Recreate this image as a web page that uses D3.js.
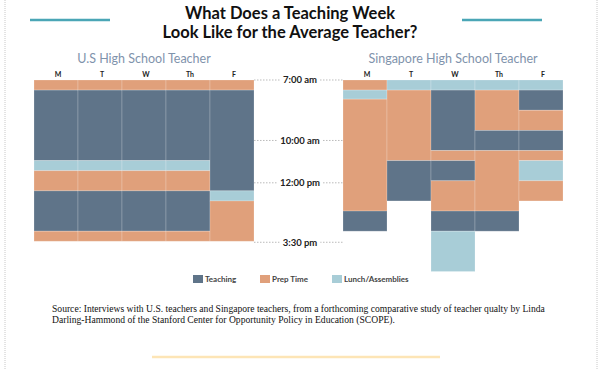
<!DOCTYPE html>
<html>
  <head>
    <meta charset="utf-8">
    <title>Teaching Week</title>
    <style>
      body { margin: 0; background: #fff; }
      svg text { font-family: Lato, "Open Sans", sans-serif; }
      .source { font-family: "Liberation Serif", serif; }
    </style>
  </head>
  <body>
    <div id="chart"></div>
    <script src="https://d3js.org/d3.v7.min.js"></script>
    <script>
      const days = ['M', 'T', 'W', 'Th', 'F'];
      const categories = ['Teaching', 'Prep Time', 'Lunch/Assemblies'];

      // blocks in class periods from 7:00 am: [day, start, end, category]
      const usBlocks = [
        ['M', 0, 1, 'Prep Time'], ['M', 1, 8, 'Teaching'], ['M', 8, 9, 'Lunch/Assemblies'],
        ['M', 9, 11, 'Prep Time'], ['M', 11, 15, 'Teaching'], ['M', 15, 16, 'Prep Time'],
        ['T', 0, 1, 'Prep Time'], ['T', 1, 8, 'Teaching'], ['T', 8, 9, 'Lunch/Assemblies'],
        ['T', 9, 11, 'Prep Time'], ['T', 11, 15, 'Teaching'], ['T', 15, 16, 'Prep Time'],
        ['W', 0, 1, 'Prep Time'], ['W', 1, 8, 'Teaching'], ['W', 8, 9, 'Lunch/Assemblies'],
        ['W', 9, 11, 'Prep Time'], ['W', 11, 15, 'Teaching'], ['W', 15, 16, 'Prep Time'],
        ['Th', 0, 1, 'Prep Time'], ['Th', 1, 8, 'Teaching'], ['Th', 8, 9, 'Lunch/Assemblies'],
        ['Th', 9, 11, 'Prep Time'], ['Th', 11, 15, 'Teaching'], ['Th', 15, 16, 'Prep Time'],
        ['F', 0, 1, 'Prep Time'], ['F', 1, 11, 'Teaching'], ['F', 11, 12, 'Lunch/Assemblies'],
        ['F', 12, 16, 'Prep Time']
      ];

      const sgBlocks = [
        ['M', 0, 1, 'Prep Time'], ['M', 1, 1.9, 'Lunch/Assemblies'], ['M', 1.9, 13, 'Prep Time'],
        ['M', 13, 15, 'Teaching'],
        ['T', 0, 1, 'Lunch/Assemblies'], ['T', 1, 8, 'Prep Time'], ['T', 8, 12, 'Teaching'],
        ['W', 0, 1, 'Lunch/Assemblies'], ['W', 1, 7, 'Teaching'], ['W', 7, 8, 'Prep Time'],
        ['W', 8, 10, 'Teaching'], ['W', 10, 13, 'Prep Time'], ['W', 13, 15, 'Teaching'],
        ['W', 15, 19, 'Lunch/Assemblies'],
        ['Th', 0, 1, 'Lunch/Assemblies'], ['Th', 1, 5, 'Prep Time'], ['Th', 5, 7, 'Teaching'],
        ['Th', 7, 13, 'Prep Time'], ['Th', 13, 15, 'Teaching'],
        ['F', 0, 1, 'Lunch/Assemblies'], ['F', 1, 3, 'Teaching'], ['F', 3, 5, 'Prep Time'],
        ['F', 5, 7, 'Teaching'], ['F', 7, 8, 'Prep Time'], ['F', 8, 10, 'Lunch/Assemblies'],
        ['F', 10, 12, 'Prep Time']
      ];

      const tickPeriods = [0, 6, 10.2, 16.1];
      const tickLabels = ['7:00 am', '10:00 am', '12:00 pm', '3:30 pm'];

      const colors = {
        'Teaching': '#5f7489',
        'Prep Time': '#e0a07b',
        'Lunch/Assemblies': '#a8cdd7'
      };

      let width = 605, height = 370;

      let svg = d3.select('#chart')
        .append('svg')
        .attr('width', width)
        .attr('height', height);

      // page borders
      [5, 597].forEach(x => {
        svg.append('line')
          .attr('x1', x).attr('x2', x).attr('y1', 0).attr('y2', height)
          .attr('stroke', '#c8c8c8').attr('stroke-dasharray', '1,1');
      });

      // title
      svg.append('text')
        .attr('x', 290).attr('y', 19)
        .attr('text-anchor', 'middle')
        .attr('font-size', 16.5).attr('font-weight', 700).attr('fill', '#111')
        .text('What Does a Teaching Week');
      svg.append('text')
        .attr('x', 290).attr('y', 38)
        .attr('text-anchor', 'middle')
        .attr('font-size', 16.5).attr('font-weight', 700).attr('fill', '#111')
        .text('Look Like for the Average Teacher?');

      [[30, 110], [462, 542]].forEach(([x1, x2]) => {
        svg.append('line')
          .attr('x1', x1).attr('x2', x2).attr('y1', 20).attr('y2', 20)
          .attr('stroke', '#4aa6b6').attr('stroke-width', 2.5);
      });

      let y = d3.scaleLinear()
        .domain([0, 19])
        .range([80, 271.5]);

      // time guides between the two charts
      let guides = svg.append('g');
      tickPeriods.forEach((t, i) => {
        let g = guides.append('g').attr('transform', `translate(0, ${y(t)})`);
        g.append('line')
          .attr('x1', 254).attr('x2', 343)
          .attr('stroke', '#aaa').attr('stroke-width', 0.8)
          .attr('stroke-dasharray', '1.5,1.5');
        let label = g.append('text')
          .attr('x', 300).attr('y', 0)
          .attr('dy', '0.35em')
          .attr('text-anchor', 'middle')
          .attr('font-size', 9.5).attr('font-weight', 700).attr('fill', '#222')
          .text(tickLabels[i]);
        let w = label.node().getComputedTextLength();
        g.insert('rect', 'text')
          .attr('x', 300 - w / 2 - 3).attr('y', -5)
          .attr('width', w + 6).attr('height', 10)
          .attr('fill', '#fff');
      });

      function drawSchedule(blocks, x0, x1, title) {
        let x = d3.scaleBand()
          .domain(days)
          .range([x0, x1]);

        let g = svg.append('g');

        g.append('text')
          .attr('x', (x0 + x1) / 2).attr('y', 63)
          .attr('text-anchor', 'middle')
          .attr('font-size', 12.5).attr('fill', '#7f93ac')
          .text(title);

        g.selectAll('.day')
          .data(days)
          .enter()
          .append('text')
          .attr('class', 'day')
          .attr('x', d => x(d) + x.bandwidth() / 2 + 2)
          .attr('y', 77)
          .attr('text-anchor', 'middle')
          .attr('font-size', 7).attr('font-weight', 700).attr('fill', '#222')
          .text(d => d);

        g.selectAll('.block')
          .data(blocks)
          .enter()
          .append('rect')
          .attr('class', 'block')
          .attr('x', d => x(d[0]))
          .attr('y', d => y(d[1]))
          .attr('width', x.bandwidth())
          .attr('height', d => y(d[2]) - y(d[1]))
          .attr('fill', d => colors[d[3]])
          .attr('stroke', '#fff')
          .attr('stroke-opacity', 0.25)
          .attr('stroke-width', 0.8);
      }

      drawSchedule(usBlocks, 34, 254, 'U.S High School Teacher');
      drawSchedule(sgBlocks, 343, 563, 'Singapore High School Teacher');

      // legend
      let legendX = [193, 260, 332];
      let legend = svg.append('g');
      categories.forEach((c, i) => {
        legend.append('rect')
          .attr('x', legendX[i]).attr('y', 275)
          .attr('width', 10).attr('height', 8)
          .attr('fill', colors[c]);
        legend.append('text')
          .attr('x', legendX[i] + 12).attr('y', 279)
          .attr('dy', '0.35em')
          .attr('font-size', 8).attr('font-weight', 700).attr('fill', '#444')
          .text(c);
      });

      // source
      let source = svg.append('text')
        .attr('class', 'source')
        .attr('x', 52).attr('y', 312)
        .attr('font-size', 9.6).attr('fill', '#111');
      source.append('tspan').attr('x', 52)
        .text('Source: Interviews with U.S. teachers and Singapore teachers, from a forthcoming comparative study of teacher qualty by Linda');
      source.append('tspan').attr('x', 52).attr('dy', 11)
        .text('Darling-Hammond of the Stanford Center for Opportunity Policy in Education (SCOPE).');

      svg.append('line')
        .attr('x1', 152).attr('x2', 440).attr('y1', 357).attr('y2', 357)
        .attr('stroke', '#fde5b6').attr('stroke-width', 2.5);
    </script>
  </body>
</html>
